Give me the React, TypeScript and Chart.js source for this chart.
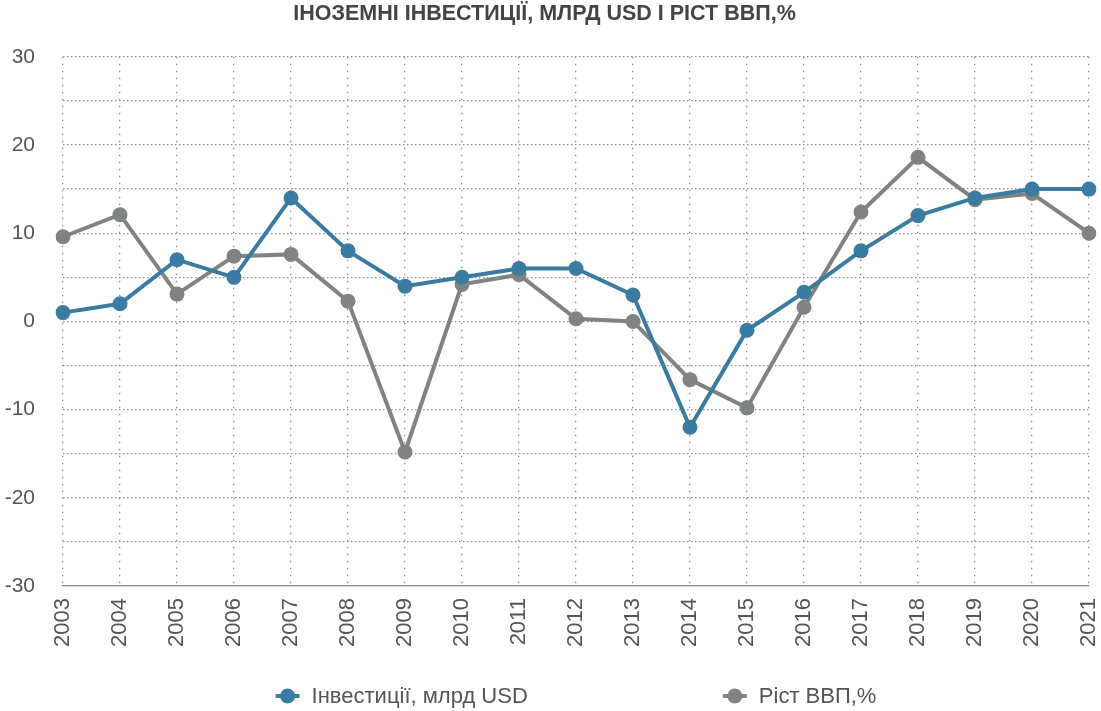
import React, { useEffect, useRef } from 'react'
import { Chart, registerables, ChartConfiguration, Plugin } from 'chart.js'

Chart.register(...registerables)

const years = [
  '2003', '2004', '2005', '2006', '2007', '2008', '2009', '2010', '2011', '2012',
  '2013', '2014', '2015', '2016', '2017', '2018', '2019', '2020', '2021'
]
const investments = [1, 2, 7, 5, 14, 8, 4, 5, 6, 6, 3, -12, -1, 3.3, 8, 12, 14, 15, 15]
const gdpGrowth = [9.6, 12.1, 3.1, 7.4, 7.6, 2.3, -14.8, 4.2, 5.3, 0.3, 0, -6.6, -9.8, 1.6, 12.4, 18.6, 13.8, 14.5, 10]
const seriesNames = ['Інвестиції, млрд USD', 'Ріст ВВП,%']
const title = 'ІНОЗЕМНІ ІНВЕСТИЦІЇ, МЛРД USD І РІСТ ВВП,%'

const BLUE = '#3a7ca1'
const GREY = '#7f8482'
const FONT = '"Liberation Sans", Arial, sans-serif'

// legend with a wide gap between the two items, drawn under the axis labels
const wideLegend: Plugin<'line'> = {
  id: 'wideLegend',
  afterDraw(chart) {
    const { ctx, chartArea } = chart
    ctx.save()
    ctx.font = `22px ${FONT}`
    const markW = 24
    const textGap = 12
    const itemGap = 195
    const items = chart.data.datasets.map(ds => ({
      text: ds.label as string,
      color: ds.borderColor as string,
      w: ctx.measureText(ds.label as string).width
    }))
    const total = items.reduce((s, it) => s + markW + textGap + it.w, 0) + itemGap * (items.length - 1)
    let x = (chartArea.left + chartArea.right) / 2 - total / 2
    const y = chart.height - 15
    items.forEach(it => {
      ctx.strokeStyle = it.color
      ctx.fillStyle = it.color
      ctx.lineWidth = 4
      ctx.beginPath()
      ctx.moveTo(x, y)
      ctx.lineTo(x + markW, y)
      ctx.stroke()
      ctx.beginPath()
      ctx.arc(x + markW / 2, y, 7.5, 0, Math.PI * 2)
      ctx.fill()
      ctx.fillStyle = '#555'
      ctx.textBaseline = 'middle'
      ctx.textAlign = 'left'
      ctx.fillText(it.text, x + markW + textGap, y + 1)
      x += markW + textGap + it.w + itemGap
    })
    ctx.restore()
  }
}

const App: React.FC = () => {
  const canvasRef = useRef<HTMLCanvasElement | null>(null)

  useEffect(() => {
    document.body.style.margin = '0'
    if (!canvasRef.current) return

    const config: ChartConfiguration<'line'> = {
      type: 'line',
      data: {
        labels: years,
        datasets: [
          {
            label: seriesNames[0],
            data: investments,
            borderColor: BLUE,
            backgroundColor: BLUE,
            borderWidth: 4,
            pointRadius: 7.5,
            pointHoverRadius: 7.5,
            pointBorderWidth: 0,
            tension: 0
          },
          {
            label: seriesNames[1],
            data: gdpGrowth,
            borderColor: GREY,
            backgroundColor: GREY,
            borderWidth: 4,
            pointRadius: 7.5,
            pointHoverRadius: 7.5,
            pointBorderWidth: 0,
            tension: 0
          }
        ]
      },
      options: {
        animation: false,
        responsive: true,
        maintainAspectRatio: false,
        layout: { padding: { left: 0, right: 12, top: 0, bottom: 52 } },
        plugins: {
          legend: { display: false },
          tooltip: { enabled: false },
          title: {
            display: true,
            text: title,
            color: '#444',
            font: { family: FONT, size: 21.5, weight: 'bold' },
            padding: { top: 1, bottom: 30 }
          }
        },
        scales: {
          x: {
            offset: false,
            grid: {
              color: '#8f8f8f',
              lineWidth: 1.3,
              drawTicks: false
            },
            border: { display: true, color: '#8a8a8a', width: 1.3, dash: [1.5, 5.5] },
            ticks: {
              color: '#555',
              font: { family: FONT, size: 22 },
              maxRotation: 90,
              minRotation: 90,
              padding: 12,
              autoSkip: false
            },
            afterFit(scale: any) {
              scale.paddingLeft = 0
              scale.paddingRight = 0
            }
          },
          y: {
            min: -30,
            max: 30,
            grid: {
              color: '#8f8f8f',
              lineWidth: 1.3,
              drawTicks: false
            },
            border: { display: false, dash: [1.5, 2.5] },
            ticks: {
              stepSize: 5,
              color: '#555',
              font: { family: FONT, size: 21 },
              padding: 28,
              callback: (v) => (Number(v) % 10 === 0 ? String(v) : '')
            },
            afterFit(scale: any) {
              scale.width = 63
            }
          }
        }
      },
      plugins: [wideLegend]
    }

    const chart = new Chart(canvasRef.current, config)
    return () => chart.destroy()
  }, [])

  return (
    <div style={{ width: 1101, height: 711, position: 'relative' }}>
      <canvas ref={canvasRef} />
    </div>
  )
}

export default App
